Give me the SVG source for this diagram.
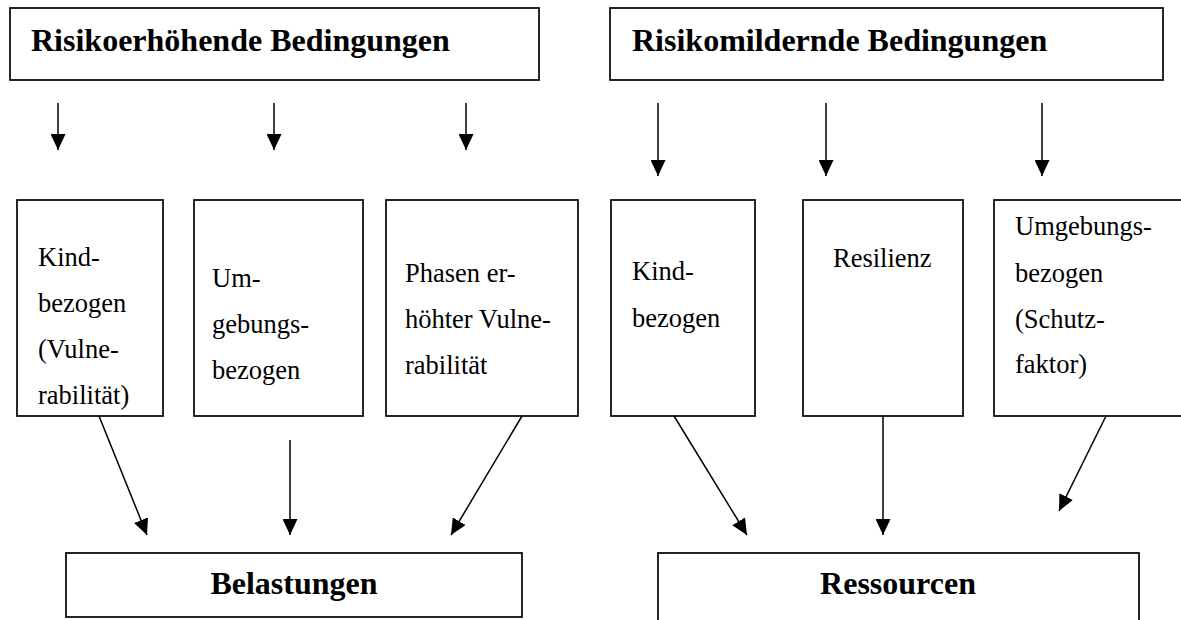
<svg xmlns="http://www.w3.org/2000/svg" width="1181" height="620" viewBox="0 0 1181 620">
  <defs>
    <marker id="head" viewBox="0 0 16 15" refX="16" refY="7.5" markerWidth="16" markerHeight="15" markerUnits="userSpaceOnUse" orient="auto">
      <path d="M0,0 L16,7.5 L0,15 z" fill="#000"/>
    </marker>
    <style>
      .box { fill: #fff; stroke: #000; stroke-width: 1.7; }
      .title { font-family: "Liberation Serif", "Times New Roman", serif; font-weight: bold; font-size: 32px; fill: #000; }
      .label { font-family: "Liberation Serif", "Times New Roman", serif; font-size: 26.5px; fill: #000; }
      .conn line { stroke: #000; stroke-width: 1.5; marker-end: url(#head); }
    </style>
  </defs>
  <rect width="1181" height="620" fill="#fff"/>

  <!-- header boxes -->
  <g id="risikoerhoehend">
    <rect class="box" x="10" y="8" width="529" height="72"/>
    <text class="title" x="31" y="51">Risikoerhöhende Bedingungen</text>
  </g>
  <g id="risikomildernd">
    <rect class="box" x="610" y="8" width="553" height="72"/>
    <text class="title" x="632" y="51">Risikomildernde Bedingungen</text>
  </g>

  <!-- middle column boxes -->
  <g id="kind-vulnerabilitaet">
    <rect class="box" x="17" y="200" width="146" height="216"/>
    <text class="label" x="38" y="266">Kind-</text>
    <text class="label" x="38" y="312">bezogen</text>
    <text class="label" x="38" y="358">(Vulne-</text>
    <text class="label" x="38" y="404">rabilität)</text>
  </g>
  <g id="umgebungsbezogen">
    <rect class="box" x="194" y="200" width="169" height="216"/>
    <text class="label" x="212" y="287">Um-</text>
    <text class="label" x="212" y="333">gebungs-</text>
    <text class="label" x="212" y="379">bezogen</text>
  </g>
  <g id="phasen">
    <rect class="box" x="386" y="200" width="192" height="216"/>
    <text class="label" x="405" y="282">Phasen er-</text>
    <text class="label" x="405" y="328">höhter Vulne-</text>
    <text class="label" x="405" y="374">rabilität</text>
  </g>
  <g id="kindbezogen">
    <rect class="box" x="611" y="200" width="144" height="216"/>
    <text class="label" x="632" y="280">Kind-</text>
    <text class="label" x="632" y="327">bezogen</text>
  </g>
  <g id="resilienz">
    <rect class="box" x="803" y="200" width="160" height="216"/>
    <text class="label" x="833" y="267">Resilienz</text>
  </g>
  <g id="umgebung-schutzfaktor">
    <rect class="box" x="994" y="200" width="195" height="216"/>
    <text class="label" x="1015" y="235">Umgebungs-</text>
    <text class="label" x="1015" y="282">bezogen</text>
    <text class="label" x="1015" y="328">(Schutz-</text>
    <text class="label" x="1015" y="373">faktor)</text>
  </g>

  <!-- result boxes -->
  <g id="belastungen">
    <rect class="box" x="66" y="553" width="456" height="64"/>
    <text class="title" x="294" y="594" text-anchor="middle">Belastungen</text>
  </g>
  <g id="ressourcen">
    <rect class="box" x="658" y="553" width="481" height="80"/>
    <text class="title" x="898" y="594" text-anchor="middle">Ressourcen</text>
  </g>

  <!-- connectors -->
  <g id="connectors" class="conn">
    <line x1="58" y1="103" x2="58" y2="150"/>
    <line x1="274" y1="103" x2="274" y2="150"/>
    <line x1="466" y1="103" x2="466" y2="150"/>
    <line x1="658" y1="103" x2="658" y2="176"/>
    <line x1="826" y1="103" x2="826" y2="176"/>
    <line x1="1042" y1="103" x2="1042" y2="176"/>

    <line x1="99" y1="416" x2="147" y2="535"/>
    <line x1="290" y1="440" x2="290" y2="535"/>
    <line x1="522" y1="416" x2="451" y2="535"/>

    <line x1="674" y1="416" x2="747" y2="535"/>
    <line x1="883" y1="416" x2="883" y2="535"/>
    <line x1="1106" y1="416" x2="1059" y2="511"/>
  </g>
</svg>
